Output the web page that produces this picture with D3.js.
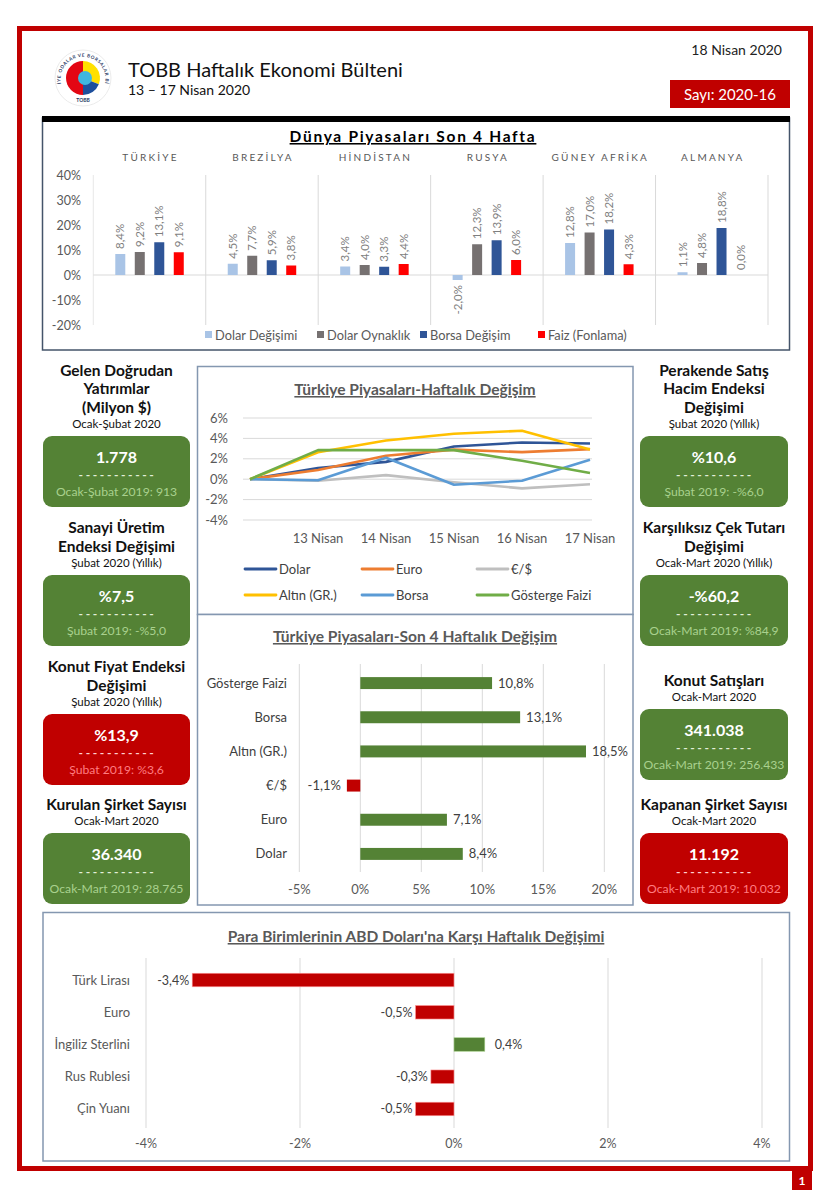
<!DOCTYPE html>
<html><head><meta charset="utf-8">
<script src="https://cdn.jsdelivr.net/npm/d3@7"></script>
<style>
html,body{margin:0;padding:0;background:#fff;}
svg{display:block;font-family:Lato,"Open Sans",sans-serif;}
</style></head>
<body>
<svg id="chart" width="830" height="1200"></svg>
<script>
// ---------- DATA ----------
const worldCountries = ["TÜRKİYE","BREZİLYA","HİNDİSTAN","RUSYA","GÜNEY AFRİKA","ALMANYA"];
const worldSeries = ["Dolar Değişimi","Dolar Oynaklık","Borsa Değişim","Faiz (Fonlama)"];
const dolarDegisimi = [8.4,4.5,3.4,-2.0,12.8,1.1];
const dolarOynaklik = [9.2,7.7,4.0,12.3,17.0,4.8];
const borsaDegisim  = [13.1,5.9,3.3,13.9,18.2,18.8];
const faizFonlama   = [9.1,3.8,4.4,6.0,4.3,0.0];
const worldTicks = [-20,-10,0,10,20,30,40];

const weekDays = ["","13 Nisan","14 Nisan","15 Nisan","16 Nisan","17 Nisan"];
const weekNames = ["Dolar","Euro","€/$","Altın (GR.)","Borsa","Gösterge Faizi"];
const weekDolar  = [0,1.1,1.7,3.2,3.6,3.5];
const weekEuro   = [0,0.9,2.3,2.9,2.65,2.95];
const weekEurUsd = [0,-0.15,0.4,-0.3,-0.9,-0.5];
const weekAltin  = [0,2.65,3.8,4.45,4.75,2.9];
const weekBorsa  = [0,-0.1,2.1,-0.55,-0.15,1.9];
const weekFaiz   = [0,2.85,2.85,2.85,1.8,0.6];
const weekTicks = [-4,-2,0,2,4,6];

const fourWeekCats = ["Gösterge Faizi","Borsa","Altın (GR.)","€/$","Euro","Dolar"];
const fourWeekVals = [10.8,13.1,18.5,-1.1,7.1,8.4];
const fourWeekTicks = [-5,0,5,10,15,20];

const fxCats = ["Türk Lirası","Euro","İngiliz Sterlini","Rus Rublesi","Çin Yuanı"];
const fxVals = [-3.4,-0.5,0.4,-0.3,-0.5];
const fxTicks = [-4,-2,0,2,4];

const kpiLeftTitles = [["Gelen Doğrudan","Yatırımlar","(Milyon $)"],["Sanayi Üretim","Endeksi Değişimi"],["Konut Fiyat Endeksi","Değişimi"],["Kurulan Şirket Sayısı"]];
const kpiLeftPeriods = ["Ocak-Şubat 2020","Şubat 2020 (Yıllık)","Şubat 2020 (Yıllık)","Ocak-Mart 2020"];
const kpiLeftValues = ["1.778","%7,5","%13,9","36.340"];
const kpiLeftPrev = ["Ocak-Şubat 2019: 913","Şubat 2019: -%5,0","Şubat 2019: %3,6","Ocak-Mart 2019: 28.765"];
const kpiLeftGood = [true,true,false,true];

const kpiRightTitles = [["Perakende Satış","Hacim Endeksi","Değişimi"],["Karşılıksız Çek Tutarı","Değişimi"],["Konut Satışları"],["Kapanan Şirket Sayısı"]];
const kpiRightPeriods = ["Şubat 2020 (Yıllık)","Ocak-Mart 2020 (Yıllık)","Ocak-Mart 2020","Ocak-Mart 2020"];
const kpiRightValues = ["%10,6","-%60,2","341.038","11.192"];
const kpiRightPrev = ["Şubat 2019: -%6,0","Ocak-Mart 2019: %84,9","Ocak-Mart 2019: 256.433","Ocak-Mart 2019: 10.032"];
const kpiRightGood = [true,true,true,false];

// ---------- HELPERS ----------
const svg = d3.select("#chart");
const RED = "#c00000", GREEN = "#548235", GRID = "#d9d9d9", TXT = "#595959";
const pct = (v, d=1) => v.toFixed(d).replace(".", ",") + "%";
const pct0 = v => String(v) + "%";

// ---------- PAGE FRAME & HEADER ----------
svg.append("rect").attr("x",19.5).attr("y",28.5).attr("width",791).attr("height",1140)
  .attr("fill","none").attr("stroke",RED).attr("stroke-width",5);
svg.append("rect").attr("x",792).attr("y",1170).attr("width",20).attr("height",20).attr("fill",RED);
svg.append("text").attr("x",802).attr("y",1185).attr("text-anchor","middle").attr("fill","#fff")
  .attr("font-size",12).attr("font-weight",700).text("1");

// logo
const logo = svg.append("g").attr("transform","translate(83,78)");
logo.append("circle").attr("r",28).attr("fill","#fff").attr("stroke","#e6e6e6").attr("stroke-width",0.8);
logo.append("path").attr("id","ringPath").attr("fill","none")
  .attr("d", "M -22,6 A 22.5,22.5 0 1,1 22,6");
logo.append("text").attr("font-size",4.6).attr("font-weight",700).attr("fill","#1f3864").attr("letter-spacing",0.6)
  .append("textPath").attr("href","#ringPath").attr("startOffset","50%").attr("text-anchor","middle")
  .text("TÜRKİYE ODALAR VE BORSALAR BİRLİĞİ");
logo.append("text").attr("y",24).attr("text-anchor","middle").attr("font-size",5).attr("font-weight",700)
  .attr("fill","#1f3864").text("TOBB");
const arcG = d3.arc().innerRadius(0).outerRadius(17);
logo.append("path").attr("d",arcG({startAngle:Math.PI*1.0,endAngle:Math.PI*2.0})).attr("fill","#e30613");
logo.append("path").attr("d",arcG({startAngle:0,endAngle:Math.PI*0.62})).attr("fill","#ffe000");
logo.append("path").attr("d",arcG({startAngle:Math.PI*0.62,endAngle:Math.PI*1.0})).attr("fill","#1d4f9c");
logo.append("circle").attr("cx",2).attr("cy",0).attr("r",7).attr("fill","#3fb6e0");

svg.append("text").attr("x",128).attr("y",77).attr("font-size",20).attr("fill","#111").text("TOBB Haftalık Ekonomi Bülteni");
svg.append("text").attr("x",128).attr("y",95).attr("font-size",14).attr("fill","#111").text("13 – 17 Nisan 2020");
svg.append("text").attr("x",782).attr("y",55).attr("text-anchor","end").attr("font-size",14).attr("fill","#222").text("18 Nisan 2020");
svg.append("rect").attr("x",670).attr("y",80).attr("width",120).attr("height",28).attr("fill",RED);
svg.append("text").attr("x",730).attr("y",100).attr("text-anchor","middle").attr("font-size",15).attr("fill","#fff").text("Sayı: 2020-16");

// ---------- TOP CHART: Dünya Piyasaları ----------
svg.append("rect").attr("x",42.5).attr("y",118).attr("width",747).attr("height",232)
  .attr("fill","#fff").attr("stroke","#44546a").attr("stroke-width",1.5);
svg.append("rect").attr("x",42).attr("y",116).attr("width",748).attr("height",6).attr("fill","#000");
svg.append("text").attr("x",413).attr("y",142).attr("text-anchor","middle").attr("font-size",15.5)
  .attr("font-weight",700).attr("letter-spacing",1.7).style("text-decoration","underline").attr("fill","#000")
  .text("Dünya Piyasaları Son 4 Hafta");

const wy = d3.scaleLinear().domain([-20,40]).range([325,175]);
const wx0 = d3.scaleBand().domain(worldCountries).range([93.3,768]);
const wx1 = d3.scaleBand().domain(worldSeries).range([0,wx0.bandwidth()]).paddingInner(0.487).paddingOuter(1.128);
const worldColors = d3.scaleOrdinal().domain(worldSeries).range(["#a9c4e6","#767171","#2f5597","#ff0000"]);
const worldData = [dolarDegisimi,dolarOynaklik,borsaDegisim,faizFonlama];

const topG = svg.append("g");
topG.selectAll(".wyl").data(worldTicks).join("text").attr("x",81).attr("y",d=>wy(d)+4.5)
  .attr("text-anchor","end").attr("font-size",12.5).attr("fill",TXT).text(pct0);
topG.append("line").attr("x1",93.3).attr("x2",768).attr("y1",wy(0)).attr("y2",wy(0)).attr("stroke",GRID);
topG.selectAll(".sep").data(worldCountries).join("line")
  .attr("x1",d=>wx0(d)).attr("x2",d=>wx0(d)).attr("y1",wy(40)).attr("y2",wy(-20)).attr("stroke",GRID)
  .attr("opacity",(d,i)=>i===0?0.6:1);
topG.append("line").attr("x1",768).attr("x2",768).attr("y1",wy(40)).attr("y2",wy(-20)).attr("stroke",GRID);
topG.selectAll(".ch").data(worldCountries).join("text")
  .attr("x",d=>wx0(d)+wx0.bandwidth()/2+1).attr("y",161).attr("text-anchor","middle")
  .attr("font-size",10).attr("letter-spacing",2.2).attr("fill",TXT).text(d=>d);
worldCountries.forEach((c,ci)=>{
  const g = topG.append("g").attr("transform",`translate(${wx0(c)},0)`);
  worldSeries.forEach((s,si)=>{
    const v = worldData[si][ci];
    const bx0 = wx1(s), bw = wx1.bandwidth();
    g.append("rect").attr("x",bx0).attr("width",bw)
      .attr("y",wy(Math.max(0,v))).attr("height",Math.abs(wy(v)-wy(0)))
      .attr("fill",worldColors(s));
    const cx = bx0 + bw/2 + 4;
    const lyy = v>=0 ? wy(v)-5 : wy(v)+5;
    g.append("text").attr("transform",`translate(${cx},${lyy}) rotate(-90)`)
      .attr("text-anchor", v>=0 ? "start" : "end")
      .attr("font-size",11.5).attr("fill","#7f7f7f").text(pct(v));
  });
});
const wLegX = [205,317,420,538];
worldSeries.forEach((s,i)=>{
  topG.append("rect").attr("x",wLegX[i]).attr("y",331).attr("width",7).attr("height",7).attr("fill",worldColors(s));
  topG.append("text").attr("x",wLegX[i]+10).attr("y",339.5).attr("font-size",12.8).attr("fill",TXT).text(s);
});

// ---------- MIDDLE LINE CHART ----------
svg.append("rect").attr("x",197.5).attr("y",366.5).attr("width",435.5).attr("height",248)
  .attr("fill","#fff").attr("stroke","#8497b0").attr("stroke-width",1.5);
svg.append("rect").attr("x",197.5).attr("y",614.5).attr("width",435.5).attr("height",290.5)
  .attr("fill","#fff").attr("stroke","#8497b0").attr("stroke-width",1.5);

svg.append("text").attr("x",415).attr("y",395).attr("text-anchor","middle").attr("font-size",15.6)
  .attr("font-weight",700).attr("fill",TXT).style("text-decoration","underline")
  .text("Türkiye Piyasaları-Haftalık Değişim");

const lx = d3.scalePoint().domain(weekDays).range([250,590]);
const ly = d3.scaleLinear().domain([-4,6]).range([520,418]);
const lc = svg.append("g");
lc.selectAll(".lg").data(weekTicks).join("line").attr("x1",243).attr("x2",592)
  .attr("y1",d=>ly(d)).attr("y2",d=>ly(d)).attr("stroke",GRID);
lc.selectAll(".lyl").data(weekTicks).join("text").attr("x",228).attr("y",d=>ly(d)+4.5)
  .attr("text-anchor","end").attr("font-size",13).attr("fill",TXT).text(pct0);
lc.selectAll(".lxl").data(weekDays).join("text").attr("x",d=>lx(d)).attr("y",543)
  .attr("text-anchor","middle").attr("font-size",13).attr("fill",TXT).text(d=>d);
const weekSeries = [weekDolar,weekEuro,weekEurUsd,weekAltin,weekBorsa,weekFaiz];
const weekColors = d3.scaleOrdinal().domain(weekNames).range(["#2f5597","#ed7d31","#bfbfbf","#ffc000","#5b9bd5","#70ad47"]);
const line = d3.line().x((d,i)=>lx(weekDays[i])).y(d=>ly(d));
weekSeries.forEach((s,i)=>{
  lc.append("path").attr("d",line(s)).attr("fill","none").attr("stroke",weekColors(weekNames[i]))
    .attr("stroke-width",2.6).attr("stroke-linejoin","round");
});
const legCols = [245,362,477], legRows = [569,595];
weekNames.forEach((n,i)=>{
  const x = legCols[i%3], y = legRows[Math.floor(i/3)];
  lc.append("line").attr("x1",x).attr("x2",x+31).attr("y1",y).attr("y2",y)
    .attr("stroke",weekColors(n)).attr("stroke-width",2.8).attr("stroke-linecap","round");
  lc.append("text").attr("x",x+34).attr("y",y+4.5).attr("font-size",13).attr("fill","#404040").text(n);
});

// ---------- MIDDLE BAR CHART ----------
svg.append("text").attr("x",415).attr("y",642).attr("text-anchor","middle").attr("font-size",15.6)
  .attr("font-weight",700).attr("fill",TXT).style("text-decoration","underline")
  .text("Türkiye Piyasaları-Son 4 Haftalık Değişim");
const bx = d3.scaleLinear().domain([-5,20]).range([299.3,604.3]);
const by = d3.scaleBand().domain(fourWeekCats).range([666,871]).paddingInner(0.65).paddingOuter(0.325);
const bc = svg.append("g");
bc.selectAll(".bg").data(fourWeekTicks).join("line").attr("x1",d=>bx(d)).attr("x2",d=>bx(d))
  .attr("y1",664).attr("y2",872).attr("stroke",GRID);
bc.selectAll(".btl").data(fourWeekTicks).join("text").attr("x",d=>bx(d)).attr("y",894)
  .attr("text-anchor","middle").attr("font-size",13).attr("fill",TXT).text(pct0);
bc.selectAll(".bcl").data(fourWeekCats).join("text").attr("x",287).attr("y",d=>by(d)+by.bandwidth()/2+4.5)
  .attr("text-anchor","end").attr("font-size",13).attr("fill","#404040").text(d=>d);
bc.selectAll(".bar").data(fourWeekVals).join("rect")
  .attr("x",d=>bx(Math.min(0,d))).attr("width",d=>Math.abs(bx(d)-bx(0)))
  .attr("y",(d,i)=>by(fourWeekCats[i])).attr("height",by.bandwidth())
  .attr("fill",d=>d>=0?GREEN:RED);
bc.selectAll(".bvl").data(fourWeekVals).join("text")
  .attr("x",d=>d>=0?bx(d)+6:bx(d)-6).attr("y",(d,i)=>by(fourWeekCats[i])+by.bandwidth()/2+4.5)
  .attr("text-anchor",d=>d>=0?"start":"end").attr("font-size",13).attr("fill","#404040").text(d=>pct(d));

// ---------- KPI BOXES ----------
function kpiColumn(cx, x0, w, titles, periods, values, prevs, good, tops){
  titles.forEach((lines,i)=>{
    const boxTop = tops[i];
    const subY = boxTop - 12;
    const g = svg.append("g");
    lines.slice().reverse().forEach((t,j)=>{
      g.append("text").attr("x",cx).attr("y",subY - 17 - j*18.5 + 5.5).attr("text-anchor","middle")
        .attr("font-size",15.5).attr("font-weight",700).attr("fill","#111").text(t);
    });
    g.append("text").attr("x",cx).attr("y",subY+4).attr("text-anchor","middle")
      .attr("font-size",11.5).attr("fill","#111").text(periods[i]);
    const col = good[i] ? GREEN : RED;
    g.append("rect").attr("x",x0).attr("y",boxTop).attr("width",w).attr("height",71).attr("rx",9).attr("fill",col);
    g.append("text").attr("x",cx).attr("y",boxTop+27).attr("text-anchor","middle").attr("font-size",16)
      .attr("font-weight",700).attr("fill","#fff").text(values[i]);
    g.append("text").attr("x",cx+1).attr("y",boxTop+43).attr("text-anchor","middle").attr("font-size",12)
      .attr("font-weight",700).attr("letter-spacing",2.6).attr("fill",good[i]?"#e2efd9":"#ffd0d0").text("-----------");
    g.append("text").attr("x",cx).attr("y",boxTop+60).attr("text-anchor","middle").attr("font-size",12.2)
      .attr("fill",good[i]?"#a9d18e":"#ff7c80").text(prevs[i]);
  });
}
kpiColumn(116.5, 43, 147, kpiLeftTitles, kpiLeftPeriods, kpiLeftValues, kpiLeftPrev, kpiLeftGood, [436,575,714,833]);
kpiColumn(714, 640, 148, kpiRightTitles, kpiRightPeriods, kpiRightValues, kpiRightPrev, kpiRightGood, [436,575,709,833]);

// ---------- BOTTOM CHART ----------
svg.append("rect").attr("x",43).attr("y",912.5).attr("width",746.5).attr("height",248.5)
  .attr("fill","#fff").attr("stroke","#8497b0").attr("stroke-width",1.5);
svg.append("text").attr("x",416).attr("y",942).attr("text-anchor","middle").attr("font-size",15.5)
  .attr("font-weight",700).attr("fill",TXT).style("text-decoration","underline")
  .text("Para Birimlerinin ABD Doları'na Karşı Haftalık Değişimi");
const fx = d3.scaleLinear().domain([-4,4]).range([146,762]);
const fy = d3.scaleBand().domain(fxCats).range([963.9,1125.1]).paddingInner(0.58).paddingOuter(0.29);
const fc = svg.append("g");
fc.selectAll(".fg").data(fxTicks).join("line").attr("x1",d=>fx(d)).attr("x2",d=>fx(d))
  .attr("y1",958).attr("y2",1128).attr("stroke",GRID);
fc.selectAll(".ftl").data(fxTicks).join("text").attr("x",d=>fx(d)).attr("y",1148)
  .attr("text-anchor","middle").attr("font-size",12.5).attr("fill",TXT).text(pct0);
fc.selectAll(".fcl").data(fxCats).join("text").attr("x",130).attr("y",d=>fy(d)+fy.bandwidth()/2+4.5)
  .attr("text-anchor","end").attr("font-size",13).attr("fill",TXT).text(d=>d);
fc.selectAll(".fbar").data(fxVals).join("rect")
  .attr("x",d=>fx(Math.min(0,d))).attr("width",d=>Math.abs(fx(d)-fx(0)))
  .attr("y",(d,i)=>fy(fxCats[i])).attr("height",fy.bandwidth())
  .attr("fill",d=>d>=0?GREEN:RED).attr("stroke",d=>d>=0?"#a9d18e":"#ff9999").attr("stroke-width",0.6);
fc.selectAll(".fvl").data(fxVals).join("text")
  .attr("x",d=>d>=0?fx(d)+10:fx(d)-3).attr("y",(d,i)=>fy(fxCats[i])+fy.bandwidth()/2+4.5)
  .attr("text-anchor",d=>d>=0?"start":"end").attr("font-size",12.5).attr("fill","#404040").text(d=>pct(d));
</script>
</body></html>
